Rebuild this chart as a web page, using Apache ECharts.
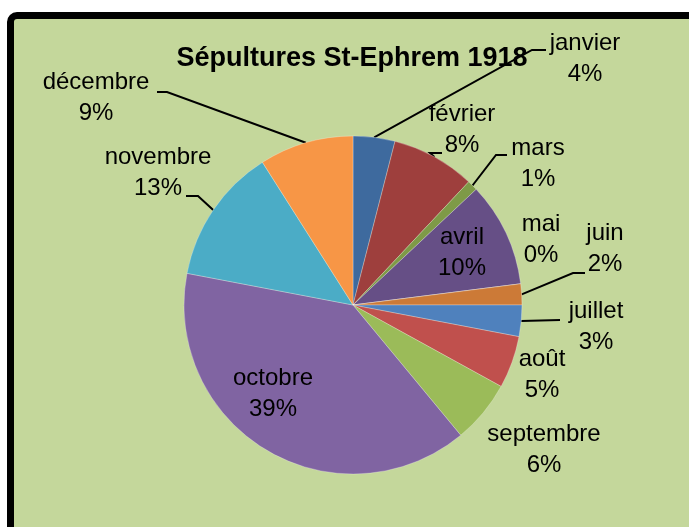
<!DOCTYPE html>
<html>
<head>
<meta charset="utf-8">
<script src="https://cdn.jsdelivr.net/npm/echarts@6/dist/echarts.min.js"></script>
<style>
html,body{margin:0;padding:0;width:689px;height:527px;overflow:hidden;background:#fff;}
#frame{position:absolute;left:7px;top:12px;width:820px;height:720px;box-sizing:border-box;border:7px solid #000;border-radius:10px;background:#C4D79B;}
#chart{position:absolute;left:0;top:0;width:689px;height:527px;}
</style>
</head>
<body>
<div id="frame"></div>
<div id="chart"></div>
<script>
// ---- data ----
const chartTitle = 'Sépultures St-Ephrem 1918';
const months = ['janvier','février','mars','avril','mai','juin','juillet','août','septembre','octobre','novembre','décembre'];
const burials = [4, 8, 1, 10, 0, 2, 3, 5, 6, 39, 13, 9];

// ---- styling ----
const sliceColors = ['#3E6A9E','#9E3F3D','#7E9A47','#664F86','#3B8DA3','#CC7A37',
                     '#4F81BD','#C0504D','#9BBB59','#8064A2','#4BACC6','#F79646'];
// centre of each two-line label (layout only)
const labelCenters = [[585,59],[462,130],[538,164],[462,253],[541,240],[605,249],
                      [596,327],[542,375],[544,450],[273,394],[158,173],[96,98]];
// leader line bends (after the library's anchor point on the slice edge)
const leaderBends = [[[532,50],[546,50]], [[430,153],[442,153]], [[496,155],[507,155]], null, null,
                     [[573,273],[585,273]], [[560,320]], null, null, null,
                     [[198,196],[186,196]], [[167,92],[157,92]]];

const chart = echarts.init(document.getElementById('chart'), null, {renderer:'canvas'});
const font = 'Liberation Sans';

const seriesData = months.map((m, i) => ({
  name: m,
  value: burials[i],
  itemStyle: {color: sliceColors[i]},
  labelLine: {show: !!leaderBends[i]}
}));

function indexOfLabel(p) {
  const t = (p.text || '').split('\n')[0];
  const k = months.indexOf(t);
  return k >= 0 ? k : p.dataIndex;
}

chart.setOption({
  backgroundColor: 'transparent',
  animation: false,
  title: {
    text: chartTitle,
    left: 352,
    top: 45,
    textAlign: 'center',
    padding: 0,
    textStyle: {fontFamily: font, fontWeight: 'bold', fontSize: 27, color: '#000'}
  },
  series: [{
    type: 'pie',
    center: [353, 305],
    radius: 169,
    startAngle: 90,
    clockwise: true,
    avoidLabelOverlap: false,
    minShowLabelAngle: 0,
    itemStyle: {borderWidth: 0.6, borderColor: 'rgba(255,255,255,0.45)'},
    label: {
      show: true,
      position: 'outside',
      fontFamily: font,
      fontSize: 24,
      lineHeight: 31,
      color: '#000',
      align: 'center',
      formatter: p => p.name + '\n' + Math.round(p.percent) + '%'
    },
    labelLine: {
      length: 10, length2: 10,
      lineStyle: {color: '#000', width: 2}
    },
    labelLayout: function (p) {
      const i = indexOfLabel(p);
      const c = labelCenters[i];
      const out = {x: c[0], y: c[1], align: 'center', verticalAlign: 'middle', hideOverlap: false};
      const bends = leaderBends[i];
      if (bends && p.labelLinePoints && p.labelLinePoints.length) {
        const a = p.labelLinePoints[0];
        out.labelLinePoints = [[a[0], a[1]]].concat(bends);
      }
      return out;
    },
    data: seriesData
  }]
});
</script>
</body>
</html>
